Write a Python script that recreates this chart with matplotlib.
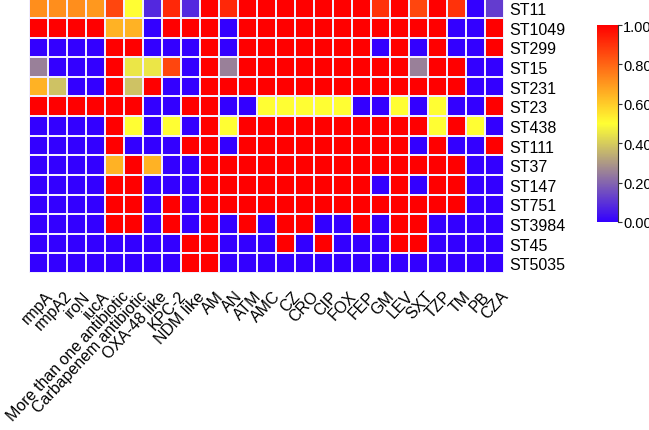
import numpy as np
import matplotlib.pyplot as plt
from matplotlib.colors import LinearSegmentedColormap
from matplotlib.transforms import ScaledTranslation, blended_transform_factory

plt.rcParams["font.family"] = ["Liberation Sans", "DejaVu Sans"]

columns = ["rmpA", "rmpA2", "iroN", "iucA", "More than one antibiotic",
           "Carbapenem antibiotic", "OXA-48 like", "KPC-2", "NDM like", "AM",
           "AN", "ATM", "AMC", "CZ", "CRO", "CIP", "FOX", "FEP", "GM", "LEV",
           "SXT", "TZP", "TM", "PB", "CZA"]

rows = ["ST11", "ST1049", "ST299", "ST15", "ST231", "ST23", "ST438",
        "ST111", "ST37", "ST147", "ST751", "ST3984", "ST45", "ST5035"]

st11 = [0.72, 0.72, 0.72, 0.70, 0.86, 0.50, 0.08, 0.92, 0.08, 1, 0.92, 1, 1,
        1, 1, 1, 1, 1, 0.90, 1, 0.86, 1, 0.90, 0, 0.12]
st1049 = [1, 1, 1, 1, 0.65, 0.65, 0, 1, 1, 1, 0, 1, 1,
          1, 1, 1, 1, 1, 1, 1, 1, 1, 0, 0, 1]
st299 = [0, 0, 0, 0, 1, 1, 0, 0, 0, 1, 0, 1, 1,
         1, 1, 1, 1, 1, 0, 1, 0, 1, 0, 0, 1]
st15 = [0.25, 0, 0, 0, 1, 0.45, 0.45, 0.86, 0, 1, 0.25, 1, 1,
        1, 1, 1, 1, 1, 1, 1, 0.25, 1, 1, 0, 0]
st231 = [0.65, 0.38, 0, 0, 1, 0.38, 1, 0, 0, 1, 1, 1, 1,
         1, 1, 1, 1, 1, 1, 1, 1, 1, 1, 0, 0]
st23 = [1, 1, 1, 1, 1, 1, 0, 0, 1, 1, 0, 0, 0.5,
        0.5, 0.5, 0.5, 0.5, 0, 0, 0.5, 0, 0.5, 0, 0, 1]
st438 = [0, 0, 0, 0, 1, 0.5, 0, 0.5, 0, 1, 0.5, 1, 1,
         1, 1, 1, 1, 1, 1, 1, 1, 0.5, 1, 0.5, 0]
st111 = [0, 0, 0, 0, 1, 0, 0, 0, 1, 1, 0, 1, 1,
         1, 1, 1, 1, 1, 1, 1, 0, 1, 0, 0, 1]
st37 = [0, 0, 0, 0, 0.65, 1, 0.65, 0, 0, 1, 1, 1, 1,
        1, 1, 1, 1, 1, 1, 1, 1, 1, 1, 0, 0]
st147 = [0, 0, 0, 0, 1, 1, 0, 0, 0, 1, 1, 1, 1,
         1, 1, 1, 1, 1, 0, 1, 0, 1, 1, 0, 0]
st751 = [0, 0, 0, 0, 1, 1, 0, 1, 0, 1, 1, 1, 1,
         1, 1, 1, 1, 1, 1, 1, 1, 1, 1, 0, 0]
st3984 = [0, 0, 0, 0, 1, 1, 0, 1, 0, 1, 0, 1, 0,
          1, 1, 0, 0, 1, 0, 1, 1, 0, 0, 0, 0]
st45 = [0, 0, 0, 0, 0, 0, 0, 0, 1, 1, 0, 0, 0,
        1, 0, 1, 0, 0, 0, 1, 1, 0, 0, 0, 0]
st5035 = [0, 0, 0, 0, 0, 0, 0, 0, 1, 1, 0, 0, 0,
          0, 0, 0, 0, 0, 0, 0, 0, 0, 0, 0, 0]

data = np.array([st11, st1049, st299, st15, st231, st23, st438,
                 st111, st37, st147, st751, st3984, st45, st5035])

cmap = LinearSegmentedColormap.from_list(
    "byr", ["#3300FF", "#FFFF33", "#FF0000"])

fig = plt.figure(figsize=(6.49, 4.31), dpi=100)
ax = fig.add_axes([0.0447, 0.3643, 0.732, 0.637])
mesh = ax.pcolormesh(data, cmap=cmap, vmin=0, vmax=1,
                     edgecolors="#F2EEFF", linewidth=1.1)
ax.set_xlim(0, len(columns))
ax.set_ylim(len(rows), 0)
for s in ax.spines.values():
    s.set_visible(False)

# column labels: rotated text hanging below each column
ax.set_xticks([])
base = blended_transform_factory(ax.transData, ax.transAxes)
offset = ScaledTranslation(6 / 100, -15 / 100, fig.dpi_scale_trans)
for i, name in enumerate(columns):
    ax.text(i + 0.5, 0, name, transform=base + offset, rotation=47,
            ha="right", va="top", rotation_mode="anchor", fontsize=11.5)

ax.set_yticks(np.arange(len(rows)) + 0.5)
ax.set_yticklabels(rows, fontsize=11.5)
ax.yaxis.tick_right()
ax.tick_params(axis="y", length=0, pad=4)

cax = fig.add_axes([0.9199, 0.4826, 0.0316, 0.457])
cb = fig.colorbar(mesh, cax=cax, ticks=[0, 0.2, 0.4, 0.6, 0.8, 1.0])
cb.ax.set_yticklabels(["0.00", "0.20", "0.40", "0.60", "0.80", "1.00"],
                      fontsize=10.5)
cb.outline.set_visible(False)
cb.ax.spines["right"].set_visible(True)
cb.ax.spines["right"].set_color("#333333")
cb.ax.spines["right"].set_linewidth(0.8)
cb.ax.tick_params(length=3, width=0.8, pad=1, color="#333333")

plt.savefig("out.png", dpi=100)
